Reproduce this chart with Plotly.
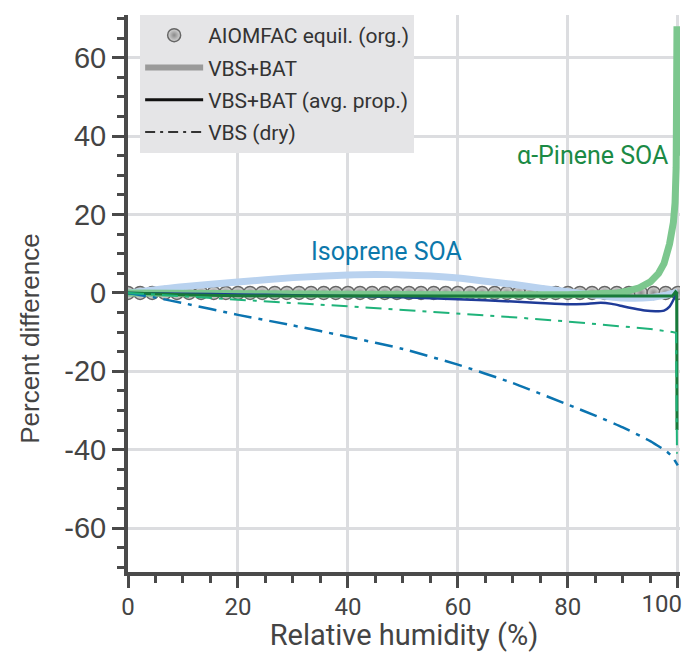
import plotly.graph_objects as go

# ---------------- data ----------------
aiomfac_rh = [0, 2.2, 4.4, 6.7, 8.9, 11.1, 13.3, 15.6, 17.8, 20, 22.2, 24.4, 26.7, 28.9,
              31.1, 33.3, 35.6, 37.8, 40, 42.2, 44.4, 46.7, 48.9, 51.1, 53.3, 55.6, 57.8,
              60, 62.2, 64.4, 66.7, 68.9, 71.1, 73.3, 75.6, 77.8, 80, 82.2, 84.4, 86.7,
              88.9, 91.1, 93.3, 95.6, 97.8, 100]
aiomfac_diff = [0, 0, 0, 0, 0, 0, 0, 0, 0, 0, 0, 0, 0, 0, 0, 0, 0, 0, 0, 0, 0, 0, 0,
                0, 0, 0, 0, 0, 0, 0, 0, 0, 0, 0, 0, 0, 0, 0, 0, 0, 0, 0, 0, 0, 0, 0]

iso_bat_rh = [0, 5, 10, 20, 30, 40, 45, 50, 55, 60, 65, 70, 75, 80, 85, 90, 95, 98, 100]
iso_bat = [0, 0.8, 1.6, 2.8, 3.9, 4.6, 4.7, 4.6, 4.3, 3.8, 3.0, 2.2, 1.2, 0.3, -0.6,
           -1.3, -1.2, -0.5, 0.2]

iso_avg_rh = [0, 10, 20, 30, 40, 50, 60, 70, 75, 80, 83, 86, 88, 90, 92, 94, 96, 97.5,
              98.5, 99.3, 99.8]
iso_avg = [0, -0.2, -0.4, -0.6, -0.8, -1.1, -1.6, -2.2, -2.6, -2.9, -2.8, -2.5, -2.8,
           -3.4, -4.0, -4.5, -4.7, -4.5, -3.5, -1.5, 0.2]

iso_dry_rh = [0, 5, 10, 20, 30, 40, 50, 60, 70, 80, 85, 90, 95, 98, 99, 100]
iso_dry = [0, -1.2, -2.6, -5.6, -8.3, -11.2, -14.3, -18.3, -23.0, -28.5, -31.3, -34.3,
           -37.8, -40.5, -41.8, -44.0]

pin_bat_rh = [0, 20, 40, 60, 80, 86, 89, 91, 93, 95, 96.5, 97.5, 98.5, 99.2, 99.5, 99.7,
              99.8, 99.85, 100.25, 100.25]
pin_bat = [0, -0.3, -0.4, -0.5, -0.5, -0.3, 0, 0.5, 1.3, 2.8, 5.0, 7.5, 12.5, 18, 23, 32,
           45, 68, 44, 35]

pin_avg_rh = [0, 10, 20, 40, 60, 80, 90, 99, 99.6, 99.8, 99.85]
pin_avg = [0, -0.5, -0.7, -0.8, -0.8, -0.8, -0.8, -0.8, 0.3, 0, -35]

pin_dry_rh = [0, 10, 20, 30, 40, 50, 60, 70, 80, 90, 95, 99, 99.7, 99.85]
pin_dry = [0, -0.9, -1.8, -2.6, -3.4, -4.3, -5.2, -6.2, -7.3, -8.6, -9.2, -10.0, -10.2, -41]

x_ticks = [0, 20, 40, 60, 80]
x_tick_labels = ["0", "20", "40", "60", "80"]
x_end_tick = [100]
x_end_label = ["100"]
y_ticks = [-60, -40, -20, 0, 20, 40, 60]
y_tick_labels = ["-60", "-40", "-20", "0", "20", "40", "60"]
legend_labels = ["AIOMFAC equil. (org.)", "VBS+BAT", "VBS+BAT (avg. prop.)", "VBS (dry)"]

# ---------------- styles ----------------
C_ISO_BAT = "#b9d2ef"
C_ISO_AVG = "#1f3b98"
C_ISO_DRY = "#0b74b0"
C_PIN_BAT = "#7cc78e"
C_PIN_AVG = "#187a3a"
C_PIN_DRY = "#1fb37a"
AX = "#4a4a4a"
TXT = "#444444"
X_RANGE = [0, 100.4]

MARKER = dict(size=13, color="#d8d8d8", line=dict(color="#666666", width=1.5),
              gradient=dict(type="radial", color="#8a8a8a"))

fig = go.Figure()

fig.add_trace(go.Scatter(x=aiomfac_rh, y=aiomfac_diff, mode="markers", showlegend=False,
                         marker=MARKER))
fig.add_trace(go.Scatter(x=iso_bat_rh, y=iso_bat, mode="lines", showlegend=False,
                         line=dict(color=C_ISO_BAT, width=7, shape="spline", smoothing=0.6)))
fig.add_trace(go.Scatter(x=pin_bat_rh, y=pin_bat, mode="lines", showlegend=False,
                         line=dict(color=C_PIN_BAT, width=7)))
fig.add_trace(go.Scatter(x=iso_avg_rh, y=iso_avg, mode="lines", showlegend=False,
                         line=dict(color=C_ISO_AVG, width=2.5, shape="spline", smoothing=0.5)))
fig.add_trace(go.Scatter(x=pin_avg_rh, y=pin_avg, mode="lines", showlegend=False,
                         line=dict(color=C_PIN_AVG, width=3)))
fig.add_trace(go.Scatter(x=iso_dry_rh, y=iso_dry, mode="lines", showlegend=False,
                         line=dict(color=C_ISO_DRY, width=2.5, dash="18px,7px,4px,7px",
                                   shape="spline", smoothing=0.5)))
fig.add_trace(go.Scatter(x=pin_dry_rh, y=pin_dry, mode="lines", showlegend=False,
                         line=dict(color=C_PIN_DRY, width=2, dash="16px,7px,4px,7px")))
# empty trace so the helper axis (carrying the last, inward-shifted tick label) exists
fig.add_trace(go.Scatter(x=[None], y=[None], xaxis="x2", yaxis="y", mode="lines",
                         showlegend=False, hoverinfo="skip"))

# legend-only traces
fig.add_trace(go.Scatter(x=[None], y=[None], mode="markers", name=legend_labels[0],
                         legendgroup="a", marker=MARKER))
fig.add_trace(go.Scatter(x=[None], y=[None], mode="lines", name=legend_labels[1],
                         legendgroup="b", line=dict(color="#9a9a9a", width=6)))
fig.add_trace(go.Scatter(x=[None], y=[None], mode="lines", name=legend_labels[2],
                         legendgroup="c", line=dict(color="#111111", width=3)))
fig.add_trace(go.Scatter(x=[None], y=[None], mode="lines", name=legend_labels[3],
                         legendgroup="d", line=dict(color="#333333", width=2,
                                                    dash="10px,5px,3px,5px")))

fig.add_annotation(x=47, y=10.5, xref="x", yref="y", text="Isoprene SOA", showarrow=False,
                   font=dict(family="Roboto", size=25, color="#0c78ab"))
fig.add_annotation(x=84.5, y=35, xref="x", yref="y", text="α-Pinene SOA", showarrow=False,
                   font=dict(family="Roboto", size=25, color="#1b8a45"))
# y-axis title (placed lower than centre, as in the original)
fig.add_annotation(x=-0.178, y=0.42, xref="paper", yref="paper", text="Percent difference",
                   textangle=-90, showarrow=False, xanchor="center", yanchor="middle",
                   font=dict(family="Liberation Sans", size=26, color=TXT))

axis_common = dict(
    showline=True, linecolor=AX, linewidth=4, mirror=False,
    ticks="outside", ticklen=12, tickwidth=3, tickcolor=AX,
    showgrid=True, gridcolor="#dcdde0", gridwidth=2.5, zeroline=False,
    automargin=False,
)

fig.update_layout(
    xaxis=dict(
        range=X_RANGE, tickvals=x_ticks + x_end_tick, ticktext=x_tick_labels + [""],
        tickfont=dict(family="Roboto", size=24, color=TXT), ticklabelstandoff=-2,
        title=dict(text="Relative humidity (%)", standoff=8,
                   font=dict(family="Roboto", size=29, color=TXT)),
        minor=dict(dtick=5, ticks="outside", ticklen=7, tickwidth=3, tickcolor=AX,
                   showgrid=False),
        **axis_common,
    ),
    xaxis2=dict(
        range=X_RANGE, overlaying="x", anchor="y", side="bottom",
        tickvals=x_end_tick, ticktext=x_end_label, ticklabelshift=-16,
        ticklabelstandoff=-2, ticklabeloverflow="allow",
        tickfont=dict(family="Roboto", size=24, color=TXT),
        ticks="outside", ticklen=12, tickwidth=3, tickcolor="rgba(0,0,0,0)",
        showline=False, showgrid=False, zeroline=False, automargin=False,
    ),
    yaxis=dict(
        range=[-71.2, 70.9], tickvals=y_ticks, ticktext=y_tick_labels,
        tickfont=dict(family="Liberation Sans", size=29, color=TXT),
        minor=dict(dtick=5, ticks="outside", ticklen=7, tickwidth=3, tickcolor=AX,
                   showgrid=False),
        **axis_common,
    ),
    # page body has an 8px margin; figure sized so the whole page is 690x660
    width=674, height=644,
    margin=dict(l=120, r=2, t=7, b=80),
    paper_bgcolor="white", plot_bgcolor="white",
    legend=dict(x=0.022, y=1.0, xanchor="left", yanchor="top",
                bgcolor="#e5e5e7", borderwidth=0, tracegroupgap=2,
                font=dict(family="Roboto", size=21, color="#333333"),
                itemwidth=58),
    showlegend=True,
)

fig.write_html("out.html")
